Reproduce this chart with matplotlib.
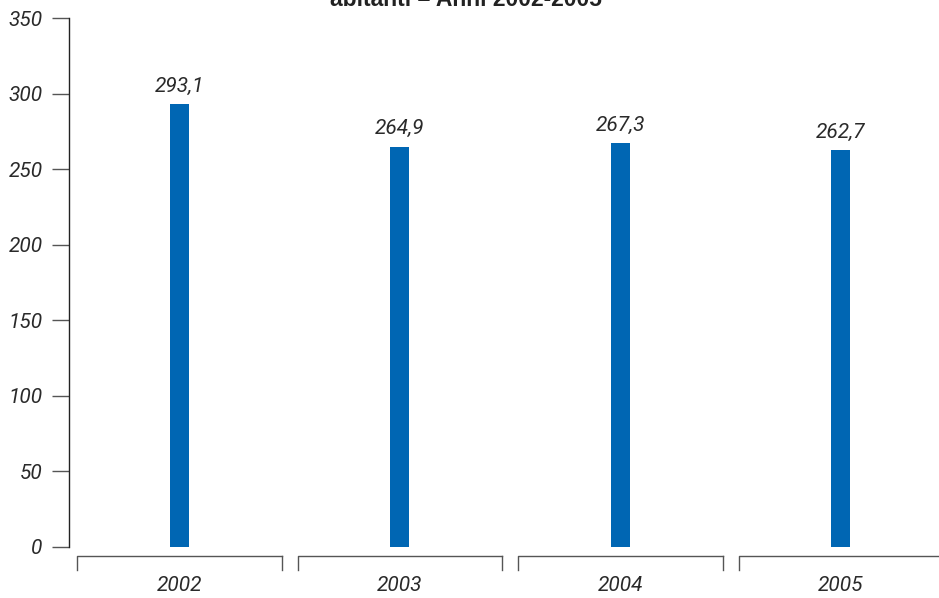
import matplotlib.pyplot as plt

years = ["2002", "2003", "2004", "2005"]
values = [293.1, 264.9, 267.3, 262.7]
value_labels = ["293,1", "264,9", "267,3", "262,7"]
yticks = [0, 50, 100, 150, 200, 250, 300, 350]

bar_color = "#0066b3"
text_color = "#2a2a2a"
plt.rcParams["font.family"] = ["Roboto", "DejaVu Sans"]

fig = plt.figure(figsize=(9.39, 5.98), dpi=100)
ax = fig.add_axes([69 / 939, 51 / 598, 1 - 69 / 939, 529 / 598])

x = list(range(len(years)))
ax.bar(x, values, width=19 / 220.5, color=bar_color, zorder=3)
for xi, v, lab in zip(x, values, value_labels):
    ax.annotate(lab, (xi, v), xytext=(0, 6), textcoords="offset points",
                ha="center", va="bottom", fontsize=15, style="italic",
                color=text_color)

ax.set_xlim(-0.5, -0.5 + 870 / 220.5)
ax.set_ylim(0, 350)
ax.set_yticks(yticks)
ax.set_yticklabels([str(t) for t in yticks], fontsize=15, style="italic",
                   color=text_color)
ax.tick_params(axis="y", direction="out", length=12, width=1, color="#555555", pad=7)
ax.set_xticks([])

for s in ["top", "right", "bottom"]:
    ax.spines[s].set_visible(False)
ax.spines["left"].set_color("#222222")
ax.spines["left"].set_linewidth(1)

# category brackets below the axis
tr = ax.get_xaxis_transform()
inset = 8 / 220.5
for i, yr in enumerate(years):
    left = i - 0.5 + inset
    right = i + 0.5 - inset if i < len(years) - 1 else 10
    ax.plot([left, left, right], [-0.0435, -0.017, -0.017], transform=tr,
            color="#555555", lw=1, clip_on=False)
    if i < len(years) - 1:
        ax.plot([right, right], [-0.017, -0.0435], transform=tr,
                color="#555555", lw=1, clip_on=False)
    ax.text(i, -0.073, yr, transform=tr, ha="center", va="center",
            fontsize=15, style="italic", color=text_color)

fig.text(466 / 939, 1 - 6 / 598, "abitanti – Anni 2002-2005", ha="center",
         va="baseline", fontsize=16.5, fontweight="bold", color="#222222",
         family=["Liberation Sans", "DejaVu Sans"])

fig.savefig("out.png", dpi=100)
